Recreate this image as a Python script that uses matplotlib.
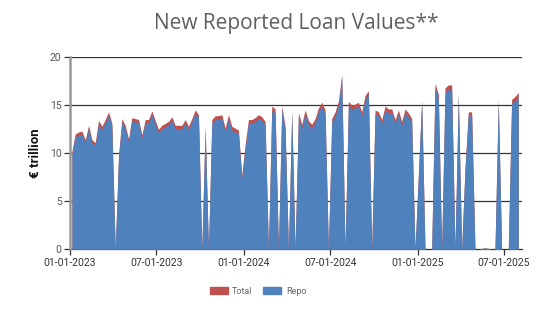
import matplotlib
matplotlib.use("Agg")
import matplotlib.pyplot as plt
import matplotlib.dates as mdates
import matplotlib.patches as mpatches
import pandas as pd

start_date = "2023-01-05"
total = [10.2, 12.0, 12.2, 12.3, 11.4, 12.9, 11.4, 11.1, 13.4, 12.8,
         13.5, 14.3, 13.1, 0.0, 9.8, 13.6, 12.9, 11.5, 13.7, 13.6,
         13.5, 11.9, 13.5, 13.5, 14.4, 13.4, 12.5, 12.9, 13.1, 13.3,
         13.8, 12.9, 12.9, 12.9, 13.5, 12.8, 13.6, 14.5, 14.0, 0.0,
         12.8, 0.0, 13.5, 13.9, 13.9, 14.0, 12.6, 14.0, 12.8, 12.6,
         12.4, 7.7, 10.9, 13.5, 13.5, 13.7, 14.0, 13.8, 13.3, 0.0,
         14.9, 14.6, 0.0, 14.9, 12.8, 0.0, 14.5, 0.0, 14.2, 13.0,
         14.5, 13.4, 13.0, 13.6, 14.7, 15.3, 14.5, 0.0, 13.6, 14.3,
         15.4, 18.2, 0.0, 15.4, 15.0, 15.1, 15.3, 14.3, 16.0, 16.5,
         0.0, 14.5, 14.3, 13.5, 14.9, 14.6, 14.6, 13.5, 14.5, 13.3,
         14.6, 14.2, 13.6, 0.0, 7.8, 15.6, 0.0, 0.0, 0.0, 17.3,
         16.1, 0.0, 16.8, 17.1, 17.1, 0.0, 16.2, 0.0, 8.5, 14.3,
         14.3, 0.0, 0.0, 0.1, 0.15, 0.1, 0.0, 0.0, 15.6, 0.0,
         0.0, 0.0, 15.6, 15.9, 16.3]
repo = [9.9, 11.7, 11.85, 11.95, 11.1, 12.6, 11.1, 10.8, 13.05, 12.45,
        13.15, 13.95, 12.8, 0.0, 9.5, 13.25, 12.55, 11.2, 13.35, 13.25,
        13.15, 11.6, 13.15, 13.15, 14.05, 13.05, 12.15, 12.55, 12.75, 12.95,
        13.45, 12.55, 12.55, 12.55, 13.15, 12.45, 13.25, 14.15, 13.7, 0.0,
        12.5, 0.0, 13.1, 13.5, 13.5, 13.6, 12.2, 13.6, 12.4, 12.2,
        12.0, 7.4, 10.5, 13.1, 13.1, 13.3, 13.6, 13.4, 12.9, 0.0,
        14.4, 14.2, 0.0, 14.5, 12.4, 0.0, 14.2, 0.0, 13.8, 12.6,
        14.1, 13.0, 12.6, 13.2, 14.3, 14.9, 14.1, 0.0, 13.2, 13.9,
        15.0, 17.9, 0.0, 15.0, 14.6, 14.7, 14.9, 13.9, 15.6, 16.1,
        0.0, 14.1, 13.9, 13.1, 14.5, 14.2, 14.2, 13.1, 14.1, 12.9,
        14.2, 13.8, 13.2, 0.0, 7.6, 15.4, 0.0, 0.0, 0.0, 16.9,
        15.6, 0.0, 16.3, 16.6, 16.6, 0.0, 16.0, 0.0, 8.2, 13.9,
        13.9, 0.0, 0.0, 0.1, 0.15, 0.1, 0.0, 0.0, 15.4, 0.0,
        0.0, 0.0, 15.2, 15.4, 15.8]
x_ticks = ["2023-01-01", "2023-07-01", "2024-01-01", "2024-07-01",
           "2025-01-01", "2025-07-01"]
y_ticks = [0, 5, 10, 15, 20]

dates = pd.date_range(start_date, periods=len(total), freq="7D")

red = "#C0504D"
blue = "#4F81BD"

fig = plt.figure(figsize=(5.49, 3.09), dpi=100)
ax = fig.add_axes([0.1275, 0.193, 0.8235, 0.6225])

ax.fill_between(dates, 0, total, color=red, lw=0, zorder=2)
ax.fill_between(dates, 0, repo, color=blue, lw=0, zorder=3)

ax.set_ylim(0, 20)
ax.set_xlim(pd.Timestamp("2023-01-01"), pd.Timestamp("2025-08-08"))
ax.set_yticks(y_ticks)
ax.set_xticks(pd.to_datetime(x_ticks))
ax.xaxis.set_major_formatter(mdates.DateFormatter("%m-%d-%Y"))

for y in y_ticks[1:]:
    ax.axhline(y, color="#333333", lw=0.9, zorder=1)

for s in ["top", "right"]:
    ax.spines[s].set_visible(False)
ax.spines["left"].set_color("#999999")
ax.spines["left"].set_linewidth(1.8)
ax.spines["bottom"].set_color("#333333")
ax.spines["bottom"].set_linewidth(0.9)
ax.spines["left"].set_zorder(5)

ax.tick_params(axis="y", length=4, width=0.9, color="#333333",
               labelsize=7.5, labelcolor="#555555", pad=2)
ax.tick_params(axis="x", length=4, width=0.9, color="#333333",
               labelsize=7.5, labelcolor="#333333", pad=2)
for lab in ax.get_xticklabels() + ax.get_yticklabels():
    lab.set_family("Roboto")

ax.set_title("New Reported Loan Values**", fontsize=15, color="#606060",
             family="Open Sans", pad=20)
ax.set_ylabel("€ trillion", fontsize=9.5, fontweight="bold", color="#111111",
              family="Roboto", labelpad=6)

handles = [mpatches.Patch(color=red, label="Total"),
           mpatches.Patch(color=blue, label="Repo")]
fig.legend(handles=handles, loc="center", bbox_to_anchor=(0.47, 0.058),
           ncol=2, frameon=False, handlelength=2.0,
           handleheight=0.9, columnspacing=1.2, handletextpad=0.5,
           labelcolor="#666666", prop={"family": "Roboto", "size": 6.5})

fig.savefig("out.png", dpi=100)
